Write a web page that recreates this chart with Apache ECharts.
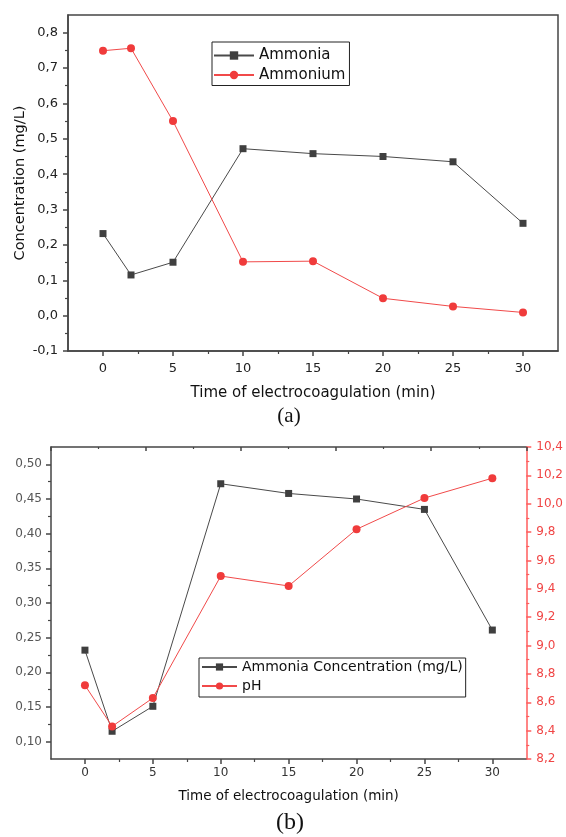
<!DOCTYPE html>
<html>
<head>
<meta charset="utf-8">
<script src="https://cdn.jsdelivr.net/npm/echarts@6/dist/echarts.min.js"></script>
<style>
  html, body { margin: 0; padding: 0; background: #fff; }
  #chart { width: 566px; height: 837px; }
</style>
</head>
<body>
<div id="chart"></div>
<script>
// Sampling times (min)
const times = [0, 2, 5, 10, 15, 20, 25, 30];
// Ammonia concentration (mg/L)
const ammonia = [0.232, 0.115, 0.151, 0.472, 0.458, 0.450, 0.435, 0.261];
// Ammonium concentration (mg/L)
const ammonium = [0.749, 0.756, 0.550, 0.152, 0.154, 0.049, 0.026, 0.009];
// pH of the treated water
const ph = [8.72, 8.43, 8.63, 9.49, 9.42, 9.82, 10.04, 10.18];

// Tick values
const timeTicks = [0, 5, 10, 15, 20, 25, 30];
const timeMinorTicks = [2.5, 7.5, 12.5, 17.5, 22.5, 27.5];
const concTicksA = [-0.1, 0, 0.1, 0.2, 0.3, 0.4, 0.5, 0.6, 0.7, 0.8];
const concMinorA = [-0.05, 0.05, 0.15, 0.25, 0.35, 0.45, 0.55, 0.65, 0.75];
const concTicksB = [0.10, 0.15, 0.20, 0.25, 0.30, 0.35, 0.40, 0.45, 0.50];
const concMinorB = [0.125, 0.175, 0.225, 0.275, 0.325, 0.375, 0.425, 0.475];

const FONT = 'DejaVu Sans';
const GRAY = '#454545';
const RED_AXIS = '#ff5c5c';
const DARK = '#3f3f3f';
const RED = '#f03b3b';

const comma = d => v => Number(v).toFixed(d).replace('.', ',');
const pairs = ys => times.map((t, i) => [t, ys[i]]);

function mainAxis(extra) {
  return Object.assign({
    type: 'value',
    nameMoveOverlap: false,
    axisLine: { show: true, onZero: false, lineStyle: { color: GRAY, width: 1.5 } },
    axisTick: { show: true, inside: false, length: 5, lineStyle: { color: GRAY, width: 1.5 } },
    splitLine: { show: false },
    minorTick: { show: false },
    minorSplitLine: { show: false }
  }, extra);
}
function minorAxis(extra, values) {
  return Object.assign({
    type: 'value',
    axisLine: { show: false, onZero: false },
    axisLabel: { show: false },
    axisTick: { show: true, inside: false, length: 3, customValues: values, lineStyle: { color: GRAY, width: 1.2 } },
    splitLine: { show: false }
  }, extra);
}

const chart = echarts.init(document.getElementById('chart'), null, { renderer: 'canvas' });

chart.setOption({
  animation: false,
  backgroundColor: '#fff',
  textStyle: { fontFamily: FONT },
  grid: [
    { left: 68, top: 15, width: 490, height: 336, show: true, borderColor: GRAY, borderWidth: 1.5, backgroundColor: 'transparent' },
    { left: 51, top: 447, width: 477, height: 312 }
  ],
  xAxis: [
    // (a) time axis
    mainAxis({
      gridIndex: 0, position: 'bottom', min: -2.5, max: 32.5,
      name: 'Time of electrocoagulation (min)', nameLocation: 'middle', nameGap: 42,
      nameTextStyle: { fontSize: 15, color: '#111', verticalAlign: 'middle', fontFamily: FONT },
      axisTick: { show: true, length: 5, customValues: timeTicks, lineStyle: { color: GRAY, width: 1.5 } },
      axisLabel: { customValues: timeTicks, margin: 11, fontSize: 13, color: '#222', fontFamily: FONT }
    }),
    minorAxis({ gridIndex: 0, position: 'bottom', min: -2.5, max: 32.5 }, timeMinorTicks),
    // (b) time axis
    mainAxis({
      gridIndex: 1, position: 'bottom', min: -2.5, max: 32.5,
      name: 'Time of electrocoagulation (min)', nameLocation: 'middle', nameGap: 37,
      nameTextStyle: { fontSize: 13.5, color: '#111', verticalAlign: 'middle', fontFamily: FONT },
      axisTick: { show: true, length: 5, customValues: timeTicks, lineStyle: { color: GRAY, width: 1.5 } },
      axisLabel: { customValues: timeTicks, margin: 8, fontSize: 12, color: '#333', fontFamily: FONT }
    }),
    minorAxis({ gridIndex: 1, position: 'bottom', min: -2.5, max: 32.5 }, timeMinorTicks),
    // (b) top frame with inward ticks
    mainAxis({
      gridIndex: 1, position: 'top', min: 0, max: 10, interval: 2,
      axisTick: { show: true, inside: true, length: 4, lineStyle: { color: GRAY, width: 1.5 } },
      minorTick: { show: true, splitNumber: 2, length: 2, lineStyle: { color: GRAY, width: 1.2 } },
      axisLabel: { show: false }
    })
  ],
  yAxis: [
    // (a) concentration axis
    mainAxis({
      gridIndex: 0, position: 'left', min: -0.1, max: 0.85,
      name: 'Concentration (mg/L)', nameLocation: 'middle', nameRotate: 90, nameGap: 48,
      nameTextStyle: { fontSize: 14.5, color: '#111', verticalAlign: 'middle', fontFamily: FONT },
      axisTick: { show: true, length: 5, customValues: concTicksA, lineStyle: { color: GRAY, width: 1.5 } },
      axisLabel: { customValues: concTicksA, formatter: comma(1), margin: 10, fontSize: 13, color: '#222', fontFamily: FONT }
    }),
    minorAxis({ gridIndex: 0, position: 'left', min: -0.1, max: 0.85 }, concMinorA),
    // (b) ammonia axis
    mainAxis({
      gridIndex: 1, position: 'left', min: 0.075, max: 0.525,
      axisTick: { show: true, length: 5, customValues: concTicksB, lineStyle: { color: GRAY, width: 1.5 } },
      axisLabel: { customValues: concTicksB, formatter: comma(2), margin: 9, fontSize: 12, color: '#555', fontFamily: FONT }
    }),
    minorAxis({ gridIndex: 1, position: 'left', min: 0.075, max: 0.525 }, concMinorB),
    // (b) pH axis
    mainAxis({
      gridIndex: 1, position: 'right', min: 8.2, max: 10.4, interval: 0.2,
      axisLine: { show: true, onZero: false, lineStyle: { color: RED_AXIS, width: 1.5 } },
      axisTick: { show: true, inside: false, length: 5, lineStyle: { color: RED_AXIS, width: 1.5 } },
      minorTick: { show: true, splitNumber: 2, length: 3, lineStyle: { color: RED_AXIS, width: 1.2 } },
      axisLabel: { formatter: comma(1), margin: 10, fontSize: 12, color: '#f04545', fontFamily: FONT }
    })
  ],
  legend: [
    {
      data: ['Ammonia', 'Ammonium'],
      orient: 'vertical', left: 212, top: 42,
      itemWidth: 40, itemHeight: 10.5, itemGap: 4.5,
      padding: [6, 4, 3, 1],
      borderColor: '#222', borderWidth: 1,
      selectedMode: false,
      textStyle: { fontSize: 15, color: '#111', fontFamily: FONT }
    },
    {
      data: ['Ammonia Concentration (mg/L)', 'pH'],
      orient: 'vertical', left: 199, top: 658,
      itemWidth: 35, itemHeight: 9, itemGap: 5,
      padding: [2, 3, 4, 2],
      borderColor: '#222', borderWidth: 1,
      selectedMode: false,
      textStyle: { fontSize: 14, color: '#111', fontFamily: FONT }
    }
  ],
  series: [
    {
      name: 'Ammonia', type: 'line', xAxisIndex: 0, yAxisIndex: 0,
      data: pairs(ammonia), symbol: 'rect', symbolSize: 7, showSymbol: true,
      itemStyle: { color: DARK }, lineStyle: { color: '#4a4a4a', width: 1 }
    },
    {
      name: 'Ammonium', type: 'line', xAxisIndex: 0, yAxisIndex: 0,
      data: pairs(ammonium), symbol: 'circle', symbolSize: 8, showSymbol: true,
      itemStyle: { color: RED }, lineStyle: { color: '#f14a4a', width: 1 }
    },
    {
      name: 'Ammonia Concentration (mg/L)', type: 'line', xAxisIndex: 2, yAxisIndex: 2,
      data: pairs(ammonia), symbol: 'rect', symbolSize: 7, showSymbol: true,
      itemStyle: { color: DARK }, lineStyle: { color: '#4a4a4a', width: 1 }
    },
    {
      name: 'pH', type: 'line', xAxisIndex: 2, yAxisIndex: 4,
      data: pairs(ph), symbol: 'circle', symbolSize: 8, showSymbol: true,
      itemStyle: { color: RED }, lineStyle: { color: '#f14a4a', width: 1 }
    }
  ],
  graphic: [
    {
      type: 'text', x: 289, y: 416,
      style: { text: '(a)', fontSize: 21, fontFamily: 'Liberation Serif', fill: '#111', align: 'center', verticalAlign: 'middle' }
    },
    {
      type: 'text', x: 290, y: 823,
      style: { text: '(b)', fontSize: 24, fontFamily: 'Liberation Serif', fill: '#111', align: 'center', verticalAlign: 'middle' }
    }
  ]
});
</script>
</body>
</html>
